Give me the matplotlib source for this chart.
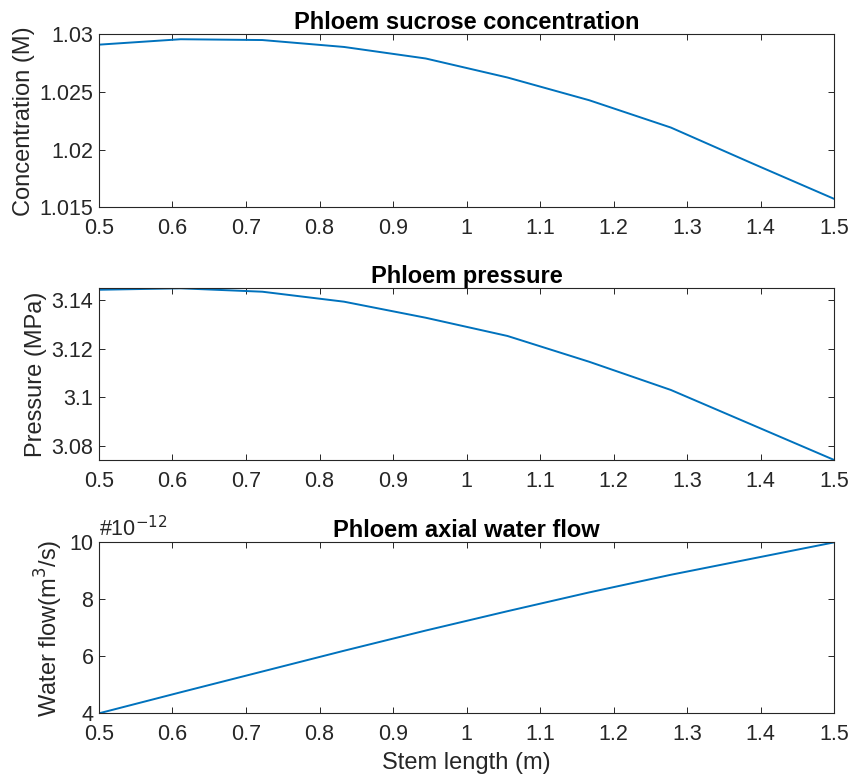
import numpy as np
import matplotlib
matplotlib.use('Agg')
import matplotlib.pyplot as plt
from matplotlib.ticker import FuncFormatter

# stem positions (m)
stem_length = [0.5, 0.6111, 0.7222, 0.8333, 0.9444, 1.0556, 1.1667, 1.2778, 1.3889, 1.5]

# phloem sucrose concentration (M)
concentration = [1.0291, 1.02957, 1.0295, 1.0289, 1.0279, 1.02625, 1.02428, 1.02191, 1.01879, 1.01572]

# phloem pressure (MPa)
pressure = [3.1442, 3.1448, 3.1434, 3.1393, 3.1327, 3.1252, 3.1146, 3.1030, 3.0886, 3.0742]

# axial water flow, in units of 1e-12 m^3/s
water_flow = [3.99, 4.73, 5.46, 6.19, 6.90, 7.58, 8.24, 8.86, 9.43, 10.0]

x_ticks = [0.5, 0.6, 0.7, 0.8, 0.9, 1.0, 1.1, 1.2, 1.3, 1.4, 1.5]
conc_ticks = [1.015, 1.02, 1.025, 1.03]
pres_ticks = [3.08, 3.1, 3.12, 3.14]
flow_ticks = [4, 6, 8, 10]

plt.rcParams['font.family'] = ['Liberation Sans', 'DejaVu Sans']

line_col = '#0072BD'
ax_col = '#262626'
tick_fs = 15.5
label_fs = 17

fig = plt.figure(figsize=(8.53, 7.79), dpi=100)

left, width = 0.116, 0.862
ax1 = fig.add_axes([left, 0.734, width, 0.222])
ax2 = fig.add_axes([left, 0.4095, width, 0.2204])
ax3 = fig.add_axes([left, 0.0843, width, 0.2195])

def g_fmt(v, pos):
    return '%g' % round(v, 6)

panels = [
    (ax1, concentration, conc_ticks, (1.015, 1.03), 'Phloem sucrose concentration', 'Concentration (M)'),
    (ax2, pressure, pres_ticks, (min(pressure), max(pressure)), 'Phloem pressure', 'Pressure (MPa)'),
    (ax3, water_flow, flow_ticks, (min(water_flow), max(water_flow)), 'Phloem axial water flow', 'Water flow(m$^3$/s)'),
]

for ax, ydata, yt, ylim, title, ylab in panels:
    ax.plot(stem_length, ydata, color=line_col, lw=1.4)
    ax.set_xlim(0.5, 1.5)
    ax.set_ylim(*ylim)
    ax.set_xticks(x_ticks)
    ax.set_yticks(yt)
    ax.xaxis.set_major_formatter(FuncFormatter(g_fmt))
    ax.yaxis.set_major_formatter(FuncFormatter(g_fmt))
    ax.tick_params(direction='in', top=True, right=True, length=4.5, width=0.7,
                   colors=ax_col, labelsize=tick_fs)
    ax.tick_params(axis='x', pad=8)
    ax.tick_params(axis='y', pad=4)
    for sp in ax.spines.values():
        sp.set_color(ax_col)
        sp.set_linewidth(0.8)
    ax.set_title(title, fontsize=label_fs, fontweight='bold', pad=4)
    ax.set_ylabel(ylab, fontsize=label_fs, color=ax_col, labelpad=3)

ax3.set_xlabel('Stem length (m)', fontsize=label_fs, color=ax_col, labelpad=5)
ax3.text(0.0, 1.005, '#10$^{-12}$', transform=ax3.transAxes, fontsize=tick_fs,
         color=ax_col, ha='left', va='bottom')

fig.savefig('out.png', dpi=100)
